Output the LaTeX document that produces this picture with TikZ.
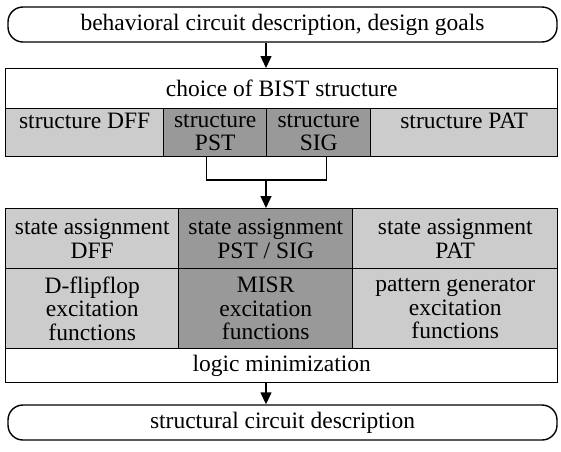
\documentclass[tikz,border=0pt]{standalone}
\usepackage{fontspec}
\setmainfont{Liberation Serif}
\usetikzlibrary{arrows.meta}
\tikzset{
    terminal/.style={
            draw, line width=1.4pt, rounded corners=15pt,
            minimum width=549pt, minimum height=35pt, inner sep=0pt,
            font=\fontsize{23.5}{23.5}\selectfont
        },
    cell/.style={
            draw, line width=1.4pt, anchor=north west, inner sep=0pt,
            align=center, font=\fontsize{23.5}{23.5}\selectfont
        },
    lightcell/.style={cell, fill=black!20},
    darkcell/.style={cell, fill=black!40},
    flow/.style={line width=1.4pt, -{Triangle[length=12pt,width=11pt]}}
}
\begin{document}
\begin{tikzpicture}[x=1pt, y=-1pt]
        \useasboundingbox (0,0) rectangle (561,451);

        \node[terminal] (goals) at (282.5,24.5) {behavioral circuit description, design goals};

        \node[cell, minimum width=552pt, minimum height=40pt] (choice) at (5,68) {choice of BIST structure};
        \node[lightcell, minimum width=158pt, minimum height=48pt] (sdff) at (5,108) {structure DFF\\\phantom{X}};
        \node[darkcell, minimum width=103pt, minimum height=48pt] (spst) at (163,108) {structure\\PST};
        \node[darkcell, minimum width=104pt, minimum height=48pt] (ssig) at (266,108) {structure\\SIG};
        \node[lightcell, minimum width=187pt, minimum height=48pt] (spat) at (370,108) {structure PAT\\\phantom{X}};

        \coordinate (join) at (266,180);

        \node[lightcell, minimum width=173pt, minimum height=60pt] (adff) at (5,208) {state assignment\\DFF};
        \node[darkcell, minimum width=174pt, minimum height=60pt] (apst) at (178,208) {state assignment\\PST / SIG};
        \node[lightcell, minimum width=205pt, minimum height=60pt] (apat) at (352,208) {state assignment\\PAT};
        \node[lightcell, minimum width=173pt, minimum height=80pt] (edff) at (5,268) {D-flipflop\\excitation\\functions};
        \node[darkcell, minimum width=174pt, minimum height=80pt] (emisr) at (178,268) {MISR\\excitation\\functions};
        \node[lightcell, minimum width=205pt, minimum height=80pt] (epat) at (352,268) {pattern generator\\excitation\\functions};
        \node[cell, minimum width=552pt, minimum height=34pt] (logic) at (5,348) {logic minimization};

        \node[terminal] (circuit) at (282.5,422.5) {structural circuit description};

        \draw[flow] (goals.south -| ssig.west) -- (choice.north -| ssig.west);
        \draw[line width=1.4pt] ([xshift=-9pt]spst.south) |- (join) -| ([xshift=8pt]ssig.south);
        \draw[flow] (join) -- (adff.north -| join);
        \draw[flow] (logic.south -| ssig.west) -- (circuit.north -| ssig.west);

    \end{tikzpicture}
\end{document}
